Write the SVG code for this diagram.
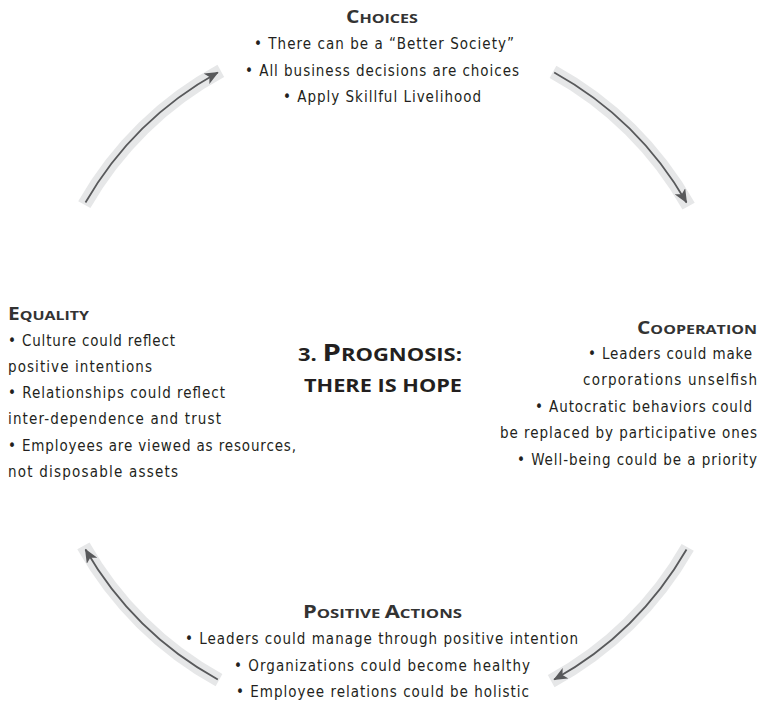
<svg xmlns="http://www.w3.org/2000/svg" width="760" height="705" viewBox="0 0 760 705">
  <style>
    .body { font-family: "DejaVu Sans Condensed", "DejaVu Sans", sans-serif; font-size: 15px; fill: #231f20; }
    .head { font-family: "Open Sans", "DejaVu Sans", sans-serif; font-weight: 700; font-size: 13px; fill: #333333; }
    .head .cap { font-size: 17px; }
    .title { font-family: "Open Sans", "DejaVu Sans", sans-serif; font-weight: 700; font-size: 18px; fill: #231f20; }
    .title .cap { font-size: 24px; }
    .band { fill: none; stroke: #e6e7e8; stroke-width: 14; }
    .flow { fill: none; stroke: #58595b; stroke-width: 1.8; marker-end: url(#arrow); }
  </style>
  <defs>
    <marker id="arrow" markerUnits="userSpaceOnUse" markerWidth="14" markerHeight="12" viewBox="0 0 14 12" refX="13" refY="6" orient="auto">
      <path d="M0,0 L14,6 L0,12 L3.5,6 Z" fill="#58595b"/>
    </marker>
  </defs>

  <!-- cycle arrows: arcs of one circle, centre (386,376), r 347, running clockwise -->
  <g id="connectors">
    <path class="band" d="M 84.3 204.6 A 347 347 0 0 1 220.8 70.9"/>
    <path class="flow" d="M 85.5 202.5 A 347 347 0 0 1 217.8 72.5"/>
    <path class="band" d="M 553 71.9 A 347 347 0 0 1 688.6 206.1"/>
    <path class="flow" d="M 554.2 72.5 A 347 347 0 0 1 686.5 202.5"/>
    <path class="band" d="M 687.7 547.4 A 347 347 0 0 1 551.2 681.1"/>
    <path class="flow" d="M 686.5 549.5 A 347 347 0 0 1 554.2 679.5"/>
    <path class="band" d="M 219 680.1 A 347 347 0 0 1 83.4 545.9"/>
    <path class="flow" d="M 217.8 679.5 A 347 347 0 0 1 85.5 549.5"/>
  </g>

  <g id="choices">
    <text class="head" x="382" y="23" text-anchor="middle" textLength="72" lengthAdjust="spacingAndGlyphs"><tspan class="cap">C</tspan>HOICES</text>
    <text class="body" x="384" y="49" text-anchor="middle" textLength="260" lengthAdjust="spacing">• There can be a “Better Society”</text>
    <text class="body" x="382" y="76" text-anchor="middle" textLength="274" lengthAdjust="spacing">• All business decisions are choices</text>
    <text class="body" x="382" y="102" text-anchor="middle" textLength="198" lengthAdjust="spacing">• Apply Skillful Livelihood</text>
  </g>

  <g id="cooperation">
    <text class="head" x="757" y="334" text-anchor="end" textLength="120" lengthAdjust="spacingAndGlyphs"><tspan class="cap">C</tspan>OOPERATION</text>
    <text class="body" x="752" y="359" text-anchor="end" textLength="164" lengthAdjust="spacing">• Leaders could make</text>
    <text class="body" x="757" y="385" text-anchor="end" textLength="174" lengthAdjust="spacing">corporations unselfish</text>
    <text class="body" x="752" y="412" text-anchor="end" textLength="217" lengthAdjust="spacing">• Autocratic behaviors could</text>
    <text class="body" x="757" y="438" text-anchor="end" textLength="257" lengthAdjust="spacing">be replaced by participative ones</text>
    <text class="body" x="757" y="465" text-anchor="end" textLength="240" lengthAdjust="spacing">• Well-being could be a priority</text>
  </g>

  <g id="positive-actions">
    <text class="head" x="382.5" y="618" text-anchor="middle" textLength="159" lengthAdjust="spacingAndGlyphs"><tspan class="cap">P</tspan>OSITIVE <tspan class="cap">A</tspan>CTIONS</text>
    <text class="body" x="381.5" y="644" text-anchor="middle" textLength="393" lengthAdjust="spacing">• Leaders could manage through positive intention</text>
    <text class="body" x="382" y="671" text-anchor="middle" textLength="296" lengthAdjust="spacing">• Organizations could become healthy</text>
    <text class="body" x="382.5" y="697" text-anchor="middle" textLength="293" lengthAdjust="spacing">• Employee relations could be holistic</text>
  </g>

  <g id="equality">
    <text class="head" x="8" y="320" textLength="81" lengthAdjust="spacingAndGlyphs"><tspan class="cap">E</tspan>QUALITY</text>
    <text class="body" x="8" y="346" textLength="167" lengthAdjust="spacing">• Culture could reflect</text>
    <text class="body" x="8" y="372" textLength="144" lengthAdjust="spacing">positive intentions</text>
    <text class="body" x="8" y="398" textLength="217" lengthAdjust="spacing">• Relationships could reflect</text>
    <text class="body" x="8" y="424" textLength="213" lengthAdjust="spacing">inter-dependence and trust</text>
    <text class="body" x="8" y="451" textLength="288" lengthAdjust="spacing">• Employees are viewed as resources,</text>
    <text class="body" x="8" y="477" textLength="170" lengthAdjust="spacing">not disposable assets</text>
  </g>

  <g id="prognosis">
    <text class="title" x="462" y="361" text-anchor="end" textLength="164" lengthAdjust="spacingAndGlyphs">3. <tspan class="cap">P</tspan>ROGNOSIS:</text>
    <text class="title" x="462" y="392" text-anchor="end" textLength="158" lengthAdjust="spacingAndGlyphs">THERE IS HOPE</text>
  </g>
</svg>
